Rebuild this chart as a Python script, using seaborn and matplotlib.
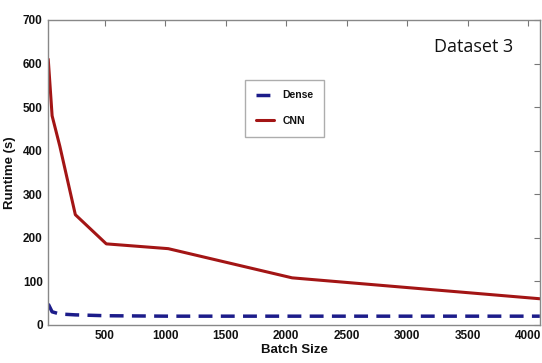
import numpy as np
import pandas as pd
import matplotlib
matplotlib.use('Agg')
import matplotlib.pyplot as plt
import seaborn as sns

batch_sizes = [32, 64, 128, 256, 512, 1024, 2048, 4096]
dense_runtime = [48, 30, 25, 23, 21, 20, 20, 20]
cnn_runtime = [610, 480, 410, 253, 186, 175, 108, 60]

sns.set_style('white', {'text.color': '#111111', 'axes.labelcolor': '#111111',
                        'xtick.color': '#111111', 'ytick.color': '#111111'})
plt.rcParams['font.family'] = ['Liberation Sans', 'DejaVu Sans']

df = pd.DataFrame({
    'Batch Size': batch_sizes * 2,
    'Runtime (s)': dense_runtime + cnn_runtime,
    'Model': ['Dense'] * len(batch_sizes) + ['CNN'] * len(batch_sizes),
})

fig = plt.figure(figsize=(5.42, 3.63), dpi=100)
ax = fig.add_axes([0.089, 0.105, 0.907, 0.84])

sns.lineplot(data=df[df['Model'] == 'Dense'], x='Batch Size', y='Runtime (s)',
             color='#1c1c8a', lw=2.5, ax=ax, label='Dense')
ax.lines[-1].set_dashes([4, 2.4])
sns.lineplot(data=df[df['Model'] == 'CNN'], x='Batch Size', y='Runtime (s)',
             color='#a31515', lw=2.2, ax=ax, label='CNN')

ax.set_xlim(32, 4096)
ax.set_ylim(0, 700)
ax.set_xticks([500, 1000, 1500, 2000, 2500, 3000, 3500, 4000])
ax.set_yticks(range(0, 701, 100))
ax.tick_params(direction='in', top=True, right=True, length=4, color='#777777',
               labelsize=8.5, pad=4, labelcolor='#111111')
for lab in ax.get_xticklabels() + ax.get_yticklabels():
    lab.set_fontweight('bold')
for s in ax.spines.values():
    s.set_color('#888888')
    s.set_linewidth(1)
ax.set_xlabel('Batch Size', fontsize=9.5, fontweight='bold', labelpad=1)
ax.set_ylabel('Runtime (s)', fontsize=9.5, fontweight='bold', labelpad=5)

leg = ax.legend(loc='upper left', bbox_to_anchor=(0.39, 0.82), fontsize=7.5,
                frameon=True, fancybox=False, handlelength=1.8, borderpad=1.0,
                labelspacing=1.5)
leg.get_frame().set_edgecolor('#999999')
for t in leg.get_texts():
    t.set_fontweight('bold')

ax.text(0.945, 0.91, 'Dataset 3', transform=ax.transAxes, ha='right', va='center',
        fontsize=13, family=['Open Sans', 'DejaVu Sans'])

fig.savefig('out.png', dpi=100)
